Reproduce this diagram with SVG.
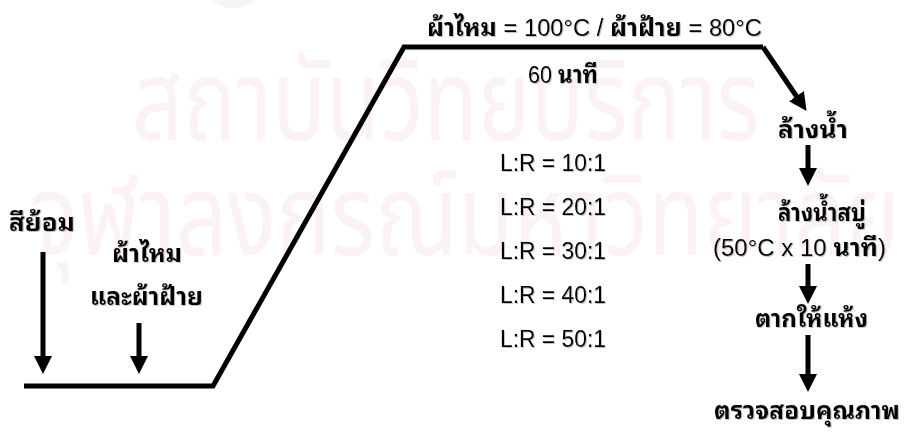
<svg xmlns="http://www.w3.org/2000/svg" width="904" height="435" viewBox="0 0 904 435">
  <defs>
    <style>
      .wm { font-family: "Noto Sans Thai", "Noto Sans", "DejaVu Sans", sans-serif; font-size: 112px; fill: #fcf1f5; }
      .t { font-family: "Liberation Sans", "Noto Sans Thai Looped", "Loma", "Garuda", "Noto Sans Thai", "Noto Sans", sans-serif; font-size: 23px; fill: #000; }
      .th { font-weight: bold; font-size: 24px; }
      .ln { fill: none; stroke: #000; stroke-width: 5; stroke-linejoin: miter; }
      .ar { fill: none; stroke: #000; stroke-width: 5; marker-end: url(#head); }
    </style>
    <marker id="head" markerUnits="userSpaceOnUse" viewBox="0 -10 19 20" markerWidth="19" markerHeight="20" refX="1" refY="0" orient="auto">
      <path d="M0,-9 L18,0 L0,9 z" fill="#000"/>
    </marker>
    <filter id="sh" x="-5%" y="-20%" width="110%" height="140%">
      <feDropShadow dx="1" dy="1" stdDeviation="0.4" flood-color="#888" flood-opacity="0.5"/>
    </filter>
  </defs>
  <rect width="904" height="435" fill="#fff"/>
  <g id="watermark">
    <circle cx="233" cy="-25" r="33" fill="#f5f5f5"/>
    <text class="wm" x="132" y="140" textLength="628" lengthAdjust="spacingAndGlyphs">สถาบันวิทยบริการ</text>
    <text class="wm" x="30" y="255" textLength="870" lengthAdjust="spacingAndGlyphs">จุฬาลงกรณ์มหาวิทยาลัย</text>
  </g>
  <g id="connectors">
    <polyline class="ln" points="24,386 213,386 404,47 763,47"/>
    <line class="ar" x1="763" y1="47" x2="797" y2="97"/>
    <line class="ar" x1="43" y1="252" x2="43" y2="357"/>
    <line class="ar" x1="139" y1="323" x2="139" y2="357"/>
    <line class="ar" x1="808" y1="145" x2="808" y2="169"/>
    <line class="ar" x1="808" y1="264" x2="808" y2="287"/>
    <line class="ar" x1="808" y1="335" x2="808" y2="375"/>
  </g>
  <g filter="url(#sh)">
    <g id="temp-label"><text class="t" x="427" y="36" textLength="335" lengthAdjust="spacingAndGlyphs"><tspan class="th">ผ้าไหม</tspan> = 100°C / <tspan class="th">ผ้าฝ้าย</tspan> = 80°C</text></g>
    <g id="time-label"><text class="t" x="528" y="83" textLength="70" lengthAdjust="spacingAndGlyphs">60 <tspan class="th">นาที</tspan></text></g>
    <g id="ratios">
      <text class="t" x="500" y="171" textLength="106" lengthAdjust="spacingAndGlyphs">L:R = 10:1</text>
      <text class="t" x="500" y="215" textLength="106" lengthAdjust="spacingAndGlyphs">L:R = 20:1</text>
      <text class="t" x="500" y="259" textLength="106" lengthAdjust="spacingAndGlyphs">L:R = 30:1</text>
      <text class="t" x="500" y="303" textLength="106" lengthAdjust="spacingAndGlyphs">L:R = 40:1</text>
      <text class="t" x="500" y="347" textLength="106" lengthAdjust="spacingAndGlyphs">L:R = 50:1</text>
    </g>
    <g id="dye"><text class="t th" x="9" y="231" textLength="66" lengthAdjust="spacingAndGlyphs">สีย้อม</text></g>
    <g id="fabric">
      <text class="t th" x="112" y="262" textLength="70" lengthAdjust="spacingAndGlyphs">ผ้าไหม</text>
      <text class="t th" x="90" y="305" textLength="113" lengthAdjust="spacingAndGlyphs">และผ้าฝ้าย</text>
    </g>
    <g id="rinse"><text class="t th" x="778" y="138" textLength="70" lengthAdjust="spacingAndGlyphs">ล้างน้ำ</text></g>
    <g id="soap">
      <text class="t th" x="778" y="221" textLength="88" lengthAdjust="spacingAndGlyphs">ล้างน้ำสบู่</text>
      <text class="t" x="713" y="256" textLength="173" lengthAdjust="spacingAndGlyphs">(50°C x 10 <tspan class="th">นาที</tspan>)</text>
    </g>
    <g id="dry"><text class="t th" x="755" y="327" textLength="113" lengthAdjust="spacingAndGlyphs">ตากให้แห้ง</text></g>
    <g id="inspect"><text class="t th" x="714" y="419" textLength="186" lengthAdjust="spacingAndGlyphs">ตรวจสอบคุณภาพ</text></g>
  </g>
</svg>
